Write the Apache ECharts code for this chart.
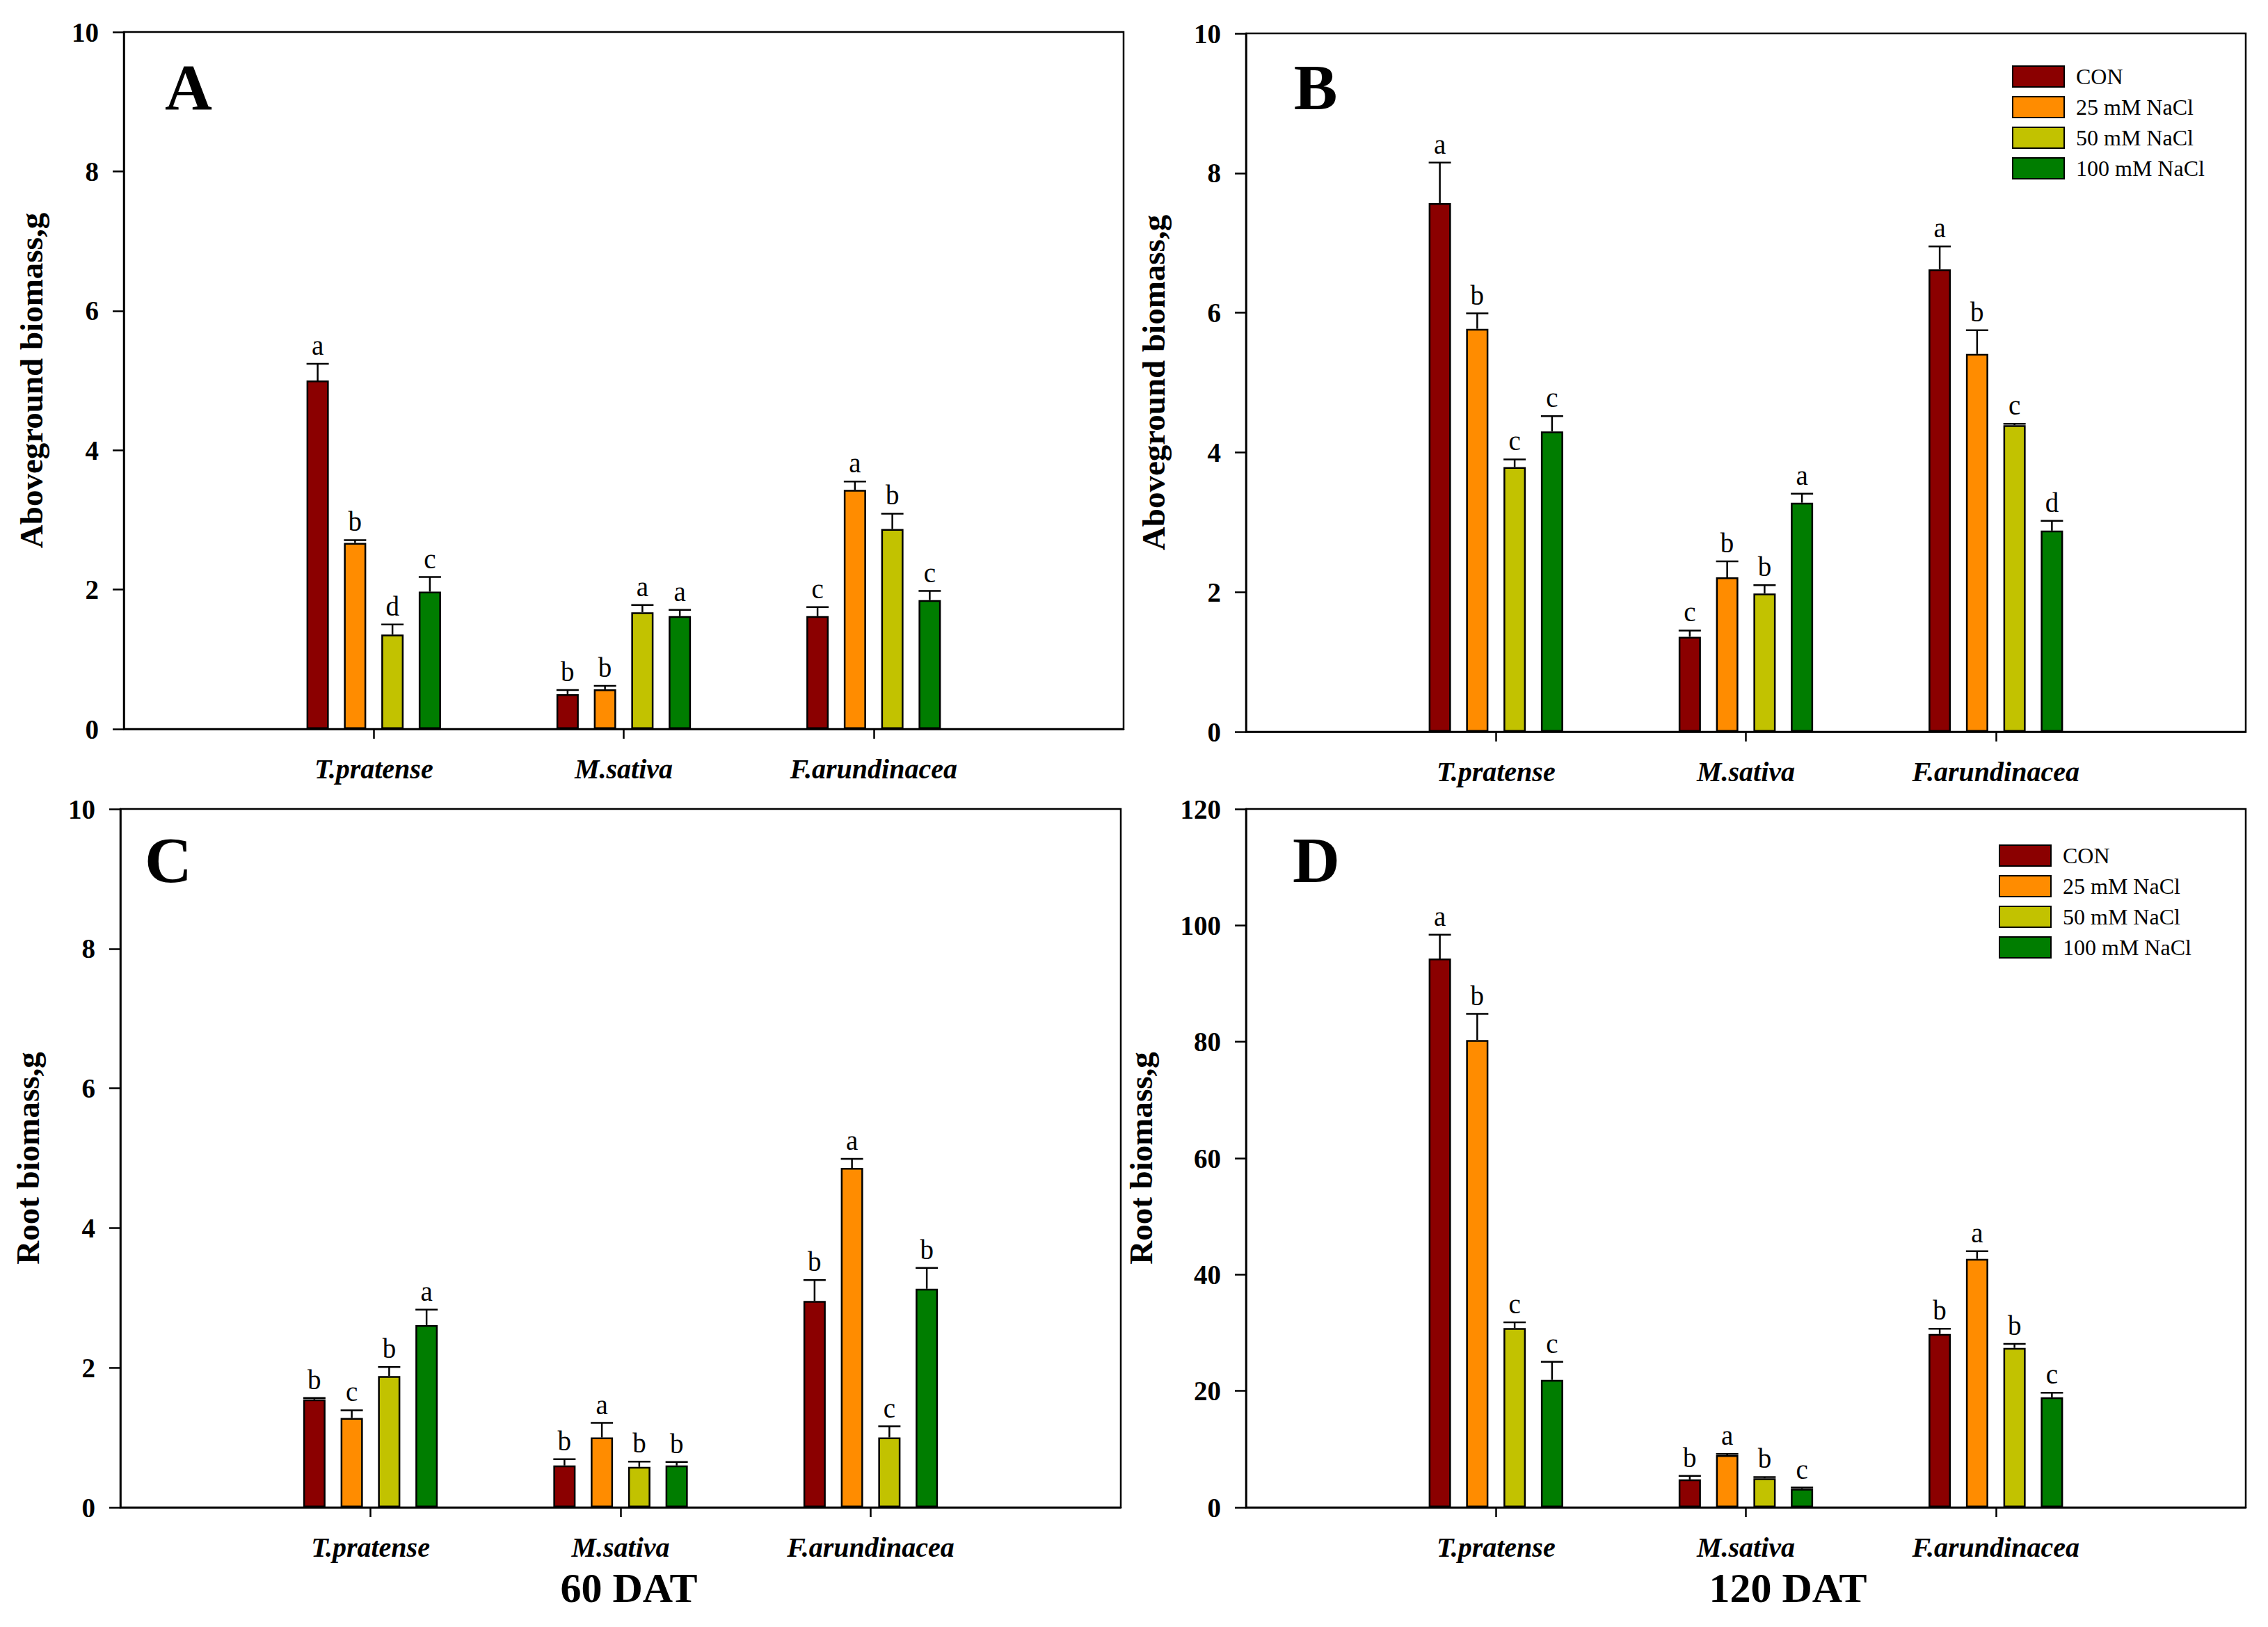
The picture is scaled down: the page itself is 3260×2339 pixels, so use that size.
<!DOCTYPE html>
<html>
<head>
<meta charset="utf-8">
<script src="https://cdn.jsdelivr.net/npm/echarts@6/dist/echarts.min.js"></script>
<style>
html,body{margin:0;padding:0;background:#fff;}
#chart{width:3260px;height:2339px;}
</style>
</head>
<body>
<div id="chart"></div>
<script>
// ---------- data ----------
const categories = ['T.pratense', 'M.sativa', 'F.arundinacea'];
const treatments = ['CON', '25 mM NaCl', '50 mM NaCl', '100 mM NaCl'];

// Panel A: Aboveground biomass, 60 DAT (rows = treatments, cols = species)
const meanA = [[5.00, 0.50, 1.62], [2.67, 0.57, 3.43], [1.355, 1.675, 2.87], [1.97, 1.62, 1.85]];
const errA  = [[0.24, 0.06, 0.13], [0.04, 0.05, 0.12], [0.145, 0.105, 0.22], [0.21, 0.09, 0.13]];
const letA  = [['a', 'b', 'c'], ['b', 'b', 'a'], ['d', 'a', 'b'], ['c', 'a', 'c']];

// Panel B: Aboveground biomass, 120 DAT
const meanB = [[7.57, 1.36, 6.62], [5.77, 2.21, 5.41], [3.79, 1.98, 4.39], [4.30, 3.28, 2.88]];
const errB  = [[0.58, 0.09, 0.33], [0.22, 0.23, 0.34], [0.11, 0.12, 0.02], [0.22, 0.13, 0.14]];
const letB  = [['a', 'c', 'a'], ['b', 'b', 'b'], ['c', 'b', 'c'], ['c', 'a', 'd']];

// Panel C: Root biomass, 60 DAT
const meanC = [[1.546, 0.60, 2.955], [1.28, 1.00, 4.86], [1.88, 0.58, 1.00], [2.61, 0.60, 3.13]];
const errC  = [[0.02, 0.09, 0.30], [0.11, 0.21, 0.13], [0.13, 0.075, 0.16], [0.22, 0.05, 0.30]];
const letC  = [['b', 'b', 'b'], ['c', 'a', 'a'], ['b', 'b', 'c'], ['a', 'b', 'b']];

// Panel D: Root biomass, 120 DAT
const meanD = [[94.3, 4.8, 29.8], [80.3, 8.96, 42.7], [30.8, 5.0, 27.4], [21.9, 3.2, 18.9]];
const errD  = [[4.1, 0.6, 0.9], [4.5, 0.2, 1.3], [1.0, 0.2, 0.7], [3.1, 0.2, 0.8]];
const letD  = [['a', 'b', 'b'], ['b', 'a', 'a'], ['c', 'b', 'b'], ['c', 'c', 'c']];

const yMax = [10, 10, 10, 120];
const yStep = [2, 2, 2, 20];
const yNames = ['Aboveground biomass,g', 'Aboveground biomass,g', 'Root biomass,g', 'Root biomass,g'];
const panelLetters = ['A', 'B', 'C', 'D'];
const bottomTitles = ['60 DAT', '120 DAT'];

// ---------- style ----------
const colors = ['#8B0000', '#FF8C00', '#C2C200', '#007D00'];
const FONT = '"Liberation Serif", "Times New Roman", serif';
const BAR_W = 32;
const BAR_GAP = 0.68;
const STEP = BAR_W * (1 + BAR_GAP);

const panels = [
  {mean: meanA, err: errA, lets: letA},
  {mean: meanB, err: errB, lets: letB},
  {mean: meanC, err: errC, lets: letC},
  {mean: meanD, err: errD, lets: letD}
];

const grids = [
  {left: 178, top: 46, width: 1437, height: 1002},
  {left: 1791, top: 48, width: 1437, height: 1004},
  {left: 173, top: 1163, width: 1438, height: 1004},
  {left: 1791, top: 1163, width: 1437, height: 1004}
];
const nameGaps = [110, 110, 110, 128];

const axisCats = [''].concat(categories, ['']);

const option = {
  backgroundColor: '#fff',
  animation: false,
  grid: grids.map(g => Object.assign({show: true, borderColor: '#000', borderWidth: 2.5, backgroundColor: 'transparent'}, g)),
  xAxis: grids.map((g, i) => ({
    type: 'category',
    gridIndex: i,
    data: axisCats,
    boundaryGap: false,
    axisLine: {show: true, lineStyle: {color: '#000', width: 2.5}},
    axisTick: {show: true, length: 14, lineStyle: {color: '#000', width: 2.5},
      interval: (idx) => idx >= 1 && idx <= categories.length},
    axisLabel: {interval: 0, margin: 37, color: '#000', fontFamily: FONT, fontSize: 40,
      fontWeight: 'bold', fontStyle: 'italic'},
    splitLine: {show: false}
  })),
  yAxis: grids.map((g, i) => ({
    type: 'value',
    gridIndex: i,
    min: 0, max: yMax[i], interval: yStep[i],
    name: yNames[i],
    nameLocation: 'middle',
    nameGap: nameGaps[i],
    nameRotate: 90,
    nameTextStyle: {color: '#000', fontFamily: FONT, fontSize: 47, fontWeight: 'bold'},
    axisLine: {show: true, lineStyle: {color: '#000', width: 2.5}},
    axisTick: {show: true, length: 16, lineStyle: {color: '#000', width: 2.5}},
    axisLabel: {margin: 36, color: '#000', fontFamily: FONT, fontSize: 39, fontWeight: 'bold'},
    splitLine: {show: false}
  })),
  legend: [
    {left: 2892, top: 94, orient: 'vertical', itemWidth: 74, itemHeight: 30, itemGap: 12,
     padding: 0, data: treatments, icon: 'rect',
     textStyle: {color: '#000', fontFamily: FONT, fontSize: 32, padding: [0, 0, 0, 12]}},
    {left: 2873, top: 1214, orient: 'vertical', itemWidth: 74, itemHeight: 30, itemGap: 12,
     padding: 0, data: treatments, icon: 'rect',
     textStyle: {color: '#000', fontFamily: FONT, fontSize: 32, padding: [0, 0, 0, 12]}}
  ],
  graphic: [],
  series: []
};

// panel letters
const letterPos = [[271, 125], [1891, 125], [242, 1236], [1892, 1236]];
panelLetters.forEach((t, i) => {
  option.graphic.push({type: 'text', x: letterPos[i][0], y: letterPos[i][1],
    style: {text: t, fill: '#000', font: 'bold 94px ' + FONT, textAlign: 'center', textVerticalAlign: 'middle'}});
});
const titlePos = [[904, 2283], [2570, 2283]];
bottomTitles.forEach((t, i) => {
  option.graphic.push({type: 'text', x: titlePos[i][0], y: titlePos[i][1],
    style: {text: t, fill: '#000', font: 'bold 60px ' + FONT, textAlign: 'center', textVerticalAlign: 'middle'}});
});

panels.forEach((p, gi) => {
  treatments.forEach((tName, k) => {
    option.series.push({
      type: 'bar',
      name: tName,
      xAxisIndex: gi, yAxisIndex: gi,
      barWidth: BAR_W,
      barGap: (BAR_GAP * 100) + '%',
      itemStyle: {color: colors[k], borderColor: '#000', borderWidth: 2.5},
      data: ['-'].concat(p.mean[k], ['-']),
      z: 2
    });
  });
  treatments.forEach((tName, k) => {
    const offset = (k - (treatments.length - 1) / 2) * STEP;
    const lets = p.lets[k];
    option.series.push({
      type: 'custom',
      name: 'err-' + gi + '-' + k,
      xAxisIndex: gi, yAxisIndex: gi,
      z: 5,
      silent: true,
      data: p.mean[k].map((m, j) => [j + 1, m, m + p.err[k][j]]),
      renderItem: function (params, api) {
        const xc = api.coord([api.value(0), 0])[0] + offset;
        const yTop = api.coord([api.value(0), api.value(1)])[1];
        const yCap = api.coord([api.value(0), api.value(2)])[1];
        const ls = {stroke: '#000', lineWidth: 2.5};
        return {
          type: 'group',
          children: [
            {type: 'line', shape: {x1: xc, y1: yTop, x2: xc, y2: yCap}, style: ls},
            {type: 'line', shape: {x1: xc - BAR_W / 2, y1: yCap, x2: xc + BAR_W / 2, y2: yCap}, style: ls},
            {type: 'text', x: xc, y: yCap - 7,
              style: {text: lets[params.dataIndex], fill: '#000', font: '39px ' + FONT,
                textAlign: 'center', textVerticalAlign: 'bottom'}}
          ]
        };
      }
    });
  });
});

const chart = echarts.init(document.getElementById('chart'), null, {renderer: 'svg'});
chart.setOption(option);
</script>
</body>
</html>
